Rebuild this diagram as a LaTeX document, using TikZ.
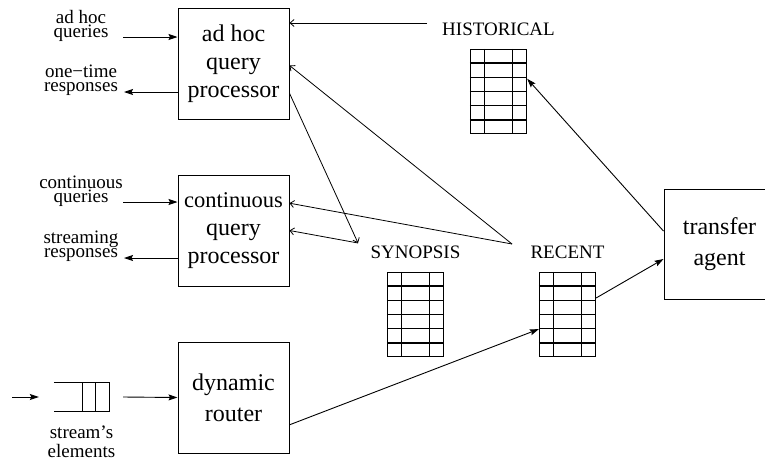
\documentclass[tikz,border=0pt]{standalone}
\usepackage{fontspec}
\setmainfont{Liberation Serif}
\usetikzlibrary{arrows.meta, calc, positioning}

\begin{document}
\begin{tikzpicture}[x=1pt, y=-1pt,
        proc/.style={draw, line width=1pt, minimum width=111pt, minimum height=111pt,
            inner sep=2pt, align=center, font=\fontsize{24}{28}\selectfont},
        lbl/.style={align=center, inner sep=0pt, font=\fontsize{19}{13.5}\selectfont},
        store/.style={draw, line width=1.3pt, minimum width=56pt, minimum height=84pt, inner sep=0pt},
        storelbl/.style={inner sep=3pt, font=\fontsize{19}{23}\selectfont},
        fl/.style={line width=0.9pt, -{Stealth[length=9pt,width=6pt,inset=1.5pt]}},
        op/.style={line width=0.8pt, -{Straight Barb[length=4pt,width=7pt]}}]
            \useasboundingbox (0,0) rectangle (765,461);
            % processors
            \node[proc] (adhoc) at (233.5,63.5) {ad hoc\\query\\processor};
            \node[proc] (cont) at (233.5,230.5) {{\fontsize{22.5}{28}\selectfont continuous}\\query\\processor};
            \node[proc] (router) at (233.5,397.5) {dynamic\\[3pt]router};
            \node[proc, minimum height=110pt] (agent) at (719.5,244) {transfer\\[3pt]agent};
            % stores
            \node[store] (hist) at (498.5,91.5) {};
            \node[store] (syn) at (415.5,314.5) {};
            \node[store] (rec) at (567.5,314.5) {};
            \foreach \t in {hist,syn,rec} {
                \foreach \i in {1,...,5}
                    \draw[line width=1.3pt] ($(\t.north west)!\i/6!(\t.south west)$) -- ($(\t.north east)!\i/6!(\t.south east)$);
                \foreach \f in {0.25,0.75}
                    \draw[line width=1.3pt] ($(\t.north west)!\f!(\t.north east)$) -- ($(\t.south west)!\f!(\t.south east)$);
            }
            \node[storelbl, above=10pt of hist] (histlbl) {HISTORICAL};
            \node[storelbl, above=10pt of syn] (synlbl) {SYNOPSIS};
            \node[storelbl, above=10pt of rec] (reclbl) {RECENT};
            % queue
            \node[minimum width=55pt, minimum height=28pt, inner sep=0pt] (queue) at (81.5,397) {};
            \draw[line width=0.9pt] (queue.north west) -- (queue.north east) -- (queue.south east) -- (queue.south west);
            \foreach \f in {0.51,0.76}
                \draw[line width=0.9pt] ($(queue.north west)!\f!(queue.north east)$) -- ($(queue.south west)!\f!(queue.south east)$);
            \node[lbl, font=\fontsize{19}{19}\selectfont, below=14pt of queue] (elems) {stream’s\\elements};
            % input and output labels
            \node[lbl, anchor=base] (qadhoc) at (81,37) {ad hoc\\queries};
            \node[lbl, anchor=base] (radhoc) at (81,91) {one−time\\responses};
            \node[lbl, anchor=base] (qcont) at (81,202) {continuous\\queries};
            \node[lbl, anchor=base] (rcont) at (81,257) {streaming\\responses};
            \coordinate (qa) at (123,37);
            \coordinate (ra) at (124,92);
            \coordinate (qc) at (123,202);
            \coordinate (rc) at (124,258);
            \coordinate (sin) at (12,397);
            \coordinate (histpt) at (427,23);
            \coordinate (synpt) at (358,243);
            \coordinate (recpt) at (512,244);
            % connectors
            \draw[fl] (qa) -- (qa -| adhoc.west);
            \draw[fl] (ra -| adhoc.west) -- (ra);
            \draw[fl] (qc) -- (qc -| cont.west);
            \draw[fl] (rc -| cont.west) -- (rc);
            \draw[fl] (sin) -- ($(queue.west)+(-15pt,0)$);
            \draw[fl] ($(queue.east)+(14pt,0)$) -- (router.west);
            \draw[fl] (router.-26) -- (rec.207);
            \draw[fl] (rec.30) -- (agent.195);
            \draw[fl] (agent.167) -- (hist.24);
            \draw[op] (histpt) -- (histpt -| adhoc.east);
            \draw[op] (recpt) -- (adhoc.-2);
            \draw[op] (recpt) -- (cont.26);
            \draw[op] (adhoc.-28) -- (synpt);
            \draw[op] (synpt) -- (cont.east);
        \end{tikzpicture}
\end{document}
